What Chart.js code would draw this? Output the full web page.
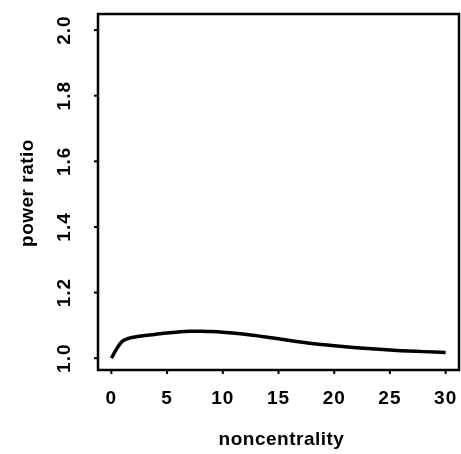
<!DOCTYPE html>
<html lang="en">
<head>
    <meta charset="UTF-8">
    <title>power ratio</title>
    <script src="https://cdn.jsdelivr.net/npm/chart.js"></script>
    <style>
        body { margin: 0; background: #ffffff }
        #container { width: 461px; height: 454px }
    </style>
</head>
<body>
    <div id="container">
        <canvas id="mycanvas" width="461" height="454"></canvas>
    </div>
<script>
    // noncentrality vs power ratio
    const noncentrality = [0, 0.5, 1, 1.5, 2, 3, 4, 5, 6, 7, 8, 9, 10, 12, 14, 16, 18, 20, 22, 24, 26, 28, 30]
    const powerRatio = [1.000, 1.030, 1.052, 1.060, 1.064, 1.069, 1.073, 1.077, 1.080, 1.082, 1.082, 1.081, 1.079,
        1.073, 1.064, 1.054, 1.045, 1.038, 1.032, 1.027, 1.023, 1.020, 1.017]
    const xTicks = [0, 5, 10, 15, 20, 25, 30]
    const yTicks = [1.0, 1.2, 1.4, 1.6, 1.8, 2.0]
    const xTitle = 'noncentrality'
    const yTitle = 'power ratio'

    const font = 'bold 19px "Liberation Sans", Arial, sans-serif'

    // frame, tick marks and labels drawn like an R base plot
    const framePlugin = {
        id: 'frame',
        afterDraw(c) {
            const ctx = c.ctx
            const a = c.chartArea
            const xs = c.scales.x
            const ys = c.scales.y
            ctx.save()
            ctx.strokeStyle = '#000'
            ctx.lineWidth = 2.5
            ctx.strokeRect(a.left, a.top, a.right - a.left, a.bottom - a.top)

            ctx.lineWidth = 2
            ctx.fillStyle = '#000'
            ctx.font = font
            ctx.letterSpacing = '1px'
            // x axis
            xTicks.forEach(v => {
                const px = xs.getPixelForValue(v)
                ctx.beginPath()
                ctx.moveTo(px, a.bottom)
                ctx.lineTo(px, a.bottom + 4)
                ctx.stroke()
                ctx.textAlign = 'center'
                ctx.textBaseline = 'middle'
                ctx.fillText(String(v), px, 399)
            })
            // y axis
            yTicks.forEach(v => {
                const py = ys.getPixelForValue(v)
                ctx.beginPath()
                ctx.moveTo(a.left, py)
                ctx.lineTo(a.left - 4, py)
                ctx.stroke()
                ctx.save()
                ctx.translate(65, py)
                ctx.rotate(-Math.PI / 2)
                ctx.textAlign = 'center'
                ctx.textBaseline = 'middle'
                ctx.fillText(v.toFixed(1), 0, 0)
                ctx.restore()
            })
            // titles
            ctx.letterSpacing = '0.5px'
            ctx.textAlign = 'center'
            ctx.textBaseline = 'middle'
            ctx.fillText(xTitle, (a.left + a.right) / 2 + 3, 440)
            ctx.save()
            ctx.translate(28, 193)
            ctx.rotate(-Math.PI / 2)
            ctx.fillText(yTitle, 0, 0)
            ctx.restore()
            ctx.restore()
        }
    }

    window.onload = () => {
        new Chart(document.getElementById('mycanvas'), {
            type: 'line',
            data: {
                datasets: [{
                    data: noncentrality.map((x, i) => ({ x: x, y: powerRatio[i] })),
                    borderColor: '#000',
                    borderWidth: 3.5,
                    pointRadius: 0,
                    cubicInterpolationMode: 'monotone',
                    fill: false
                }]
            },
            options: {
                responsive: false,
                animation: false,
                layout: { padding: { left: 98, right: 2, top: 14, bottom: 84 } },
                plugins: { legend: { display: false }, tooltip: { enabled: false } },
                scales: {
                    x: { type: 'linear', min: -1.2, max: 31.2, display: false },
                    y: { type: 'linear', min: 0.964, max: 2.049, display: false }
                }
            },
            plugins: [framePlugin]
        })
    }
</script>
</body>
</html>
